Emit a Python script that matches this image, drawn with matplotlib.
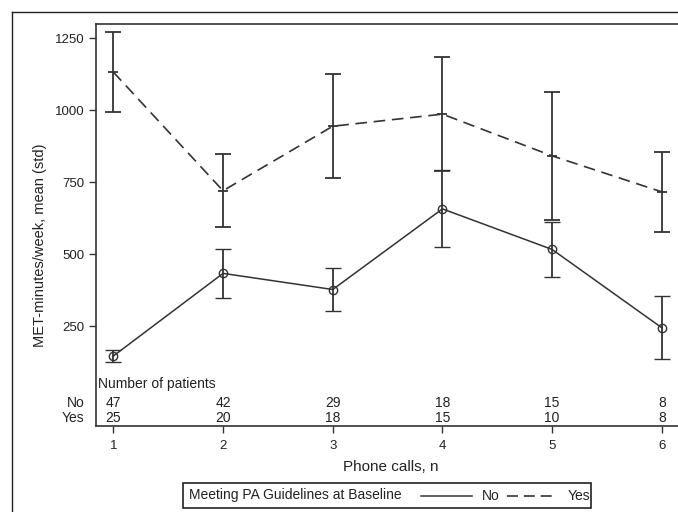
import numpy as np
import matplotlib.pyplot as plt
from matplotlib.lines import Line2D
from matplotlib.patches import Rectangle

plt.rcParams['font.family'] = ['Liberation Sans', 'DejaVu Sans']

calls = [1, 2, 3, 4, 5, 6]
no_mean = [146, 433, 377, 657, 516, 244]
no_std = [21, 86, 75, 134, 97, 110]
yes_mean = [1132, 720, 944, 986, 841, 716]
yes_std = [138, 126, 180, 198, 222, 138]
n_no = [47, 42, 29, 18, 15, 8]
n_yes = [25, 20, 18, 15, 10, 8]
yticks = [250, 500, 750, 1000, 1250]

col = '#333333'
tcol = '#222222'

fig = plt.figure(figsize=(6.78, 5.12), dpi=100)
ax = fig.add_axes([96 / 678, 1 - 426 / 512, 590 / 678, 402 / 512])

ax.errorbar(calls, no_mean, yerr=no_std, color=col, lw=1.1, ls='-',
            marker='o', ms=6, mfc='none', mec=col, mew=1.0,
            capsize=5.5, capthick=1.3, elinewidth=1.3)
ax.errorbar(calls, yes_mean, yerr=yes_std, color=col, lw=1.2, ls=(0, (7, 4)),
            marker='_', ms=7, mec=col, mew=1.3,
            capsize=5.5, capthick=1.3, elinewidth=1.3)

ax.set_xlim(0.842, 6.22)
ax.set_ylim(-97, 1299)
ax.set_xticks(calls)
ax.set_yticks(yticks)
ax.tick_params(direction='out', length=5, width=1, color=col, labelsize=9.5, colors=tcol)
ax.tick_params(axis='x', pad=5)
for s in ['left', 'bottom', 'top', 'right']:
    ax.spines[s].set_color(col)
    ax.spines[s].set_linewidth(1.2)

ax.set_xlabel('Phone calls, n', fontsize=11, labelpad=6, color=tcol)
fig.text(40 / 678, 1 - 245 / 512, 'MET-minutes/week, mean (std)', rotation=90,
         ha='center', va='center', fontsize=10.5, color=tcol)

# number of patients table inside the axes
tr = ax.get_xaxis_transform()
ax.text(0.004, 0.1045, 'Number of patients', transform=ax.transAxes,
        ha='left', va='center', fontsize=10, color=tcol)
for x, a, b in zip(calls, n_no, n_yes):
    ax.text(x, 0.057, str(a), transform=tr, ha='center', va='center', fontsize=10, color=tcol)
    ax.text(x, 0.020, str(b), transform=tr, ha='center', va='center', fontsize=10, color=tcol)
ax.text(-0.019, 0.057, 'No', transform=ax.transAxes, ha='right', va='center', fontsize=10, color=tcol)
ax.text(-0.019, 0.020, 'Yes', transform=ax.transAxes, ha='right', va='center', fontsize=10, color=tcol)

# outer frame
fig.add_artist(Line2D([12 / 678, 1.0], [1 - 12 / 512] * 2, color=tcol, lw=1))
fig.add_artist(Line2D([12 / 678] * 2, [0, 1 - 12 / 512], color=tcol, lw=1))

# legend box
W, H = 678, 512
fig.add_artist(Rectangle((183 / W, 1 - 508 / H), (591 - 183) / W, 25 / H,
                         fill=False, ec=tcol, lw=1.2, transform=fig.transFigure))
ly = 1 - 495.5 / H
fig.text(189 / W, ly, 'Meeting PA Guidelines at Baseline', ha='left', va='center', fontsize=10, color=tcol)
fig.add_artist(Line2D([421 / W, 472 / W], [ly, ly], color=col, lw=1.1))
fig.text(482 / W, ly, 'No', ha='left', va='center', fontsize=10, color=tcol)
fig.add_artist(Line2D([507 / W, 552 / W], [ly, ly], color=col, lw=1.2, ls=(0, (6.6, 3.5))))
fig.text(568 / W, ly, 'Yes', ha='left', va='center', fontsize=10, color=tcol)

fig.savefig('out.png', dpi=100)
